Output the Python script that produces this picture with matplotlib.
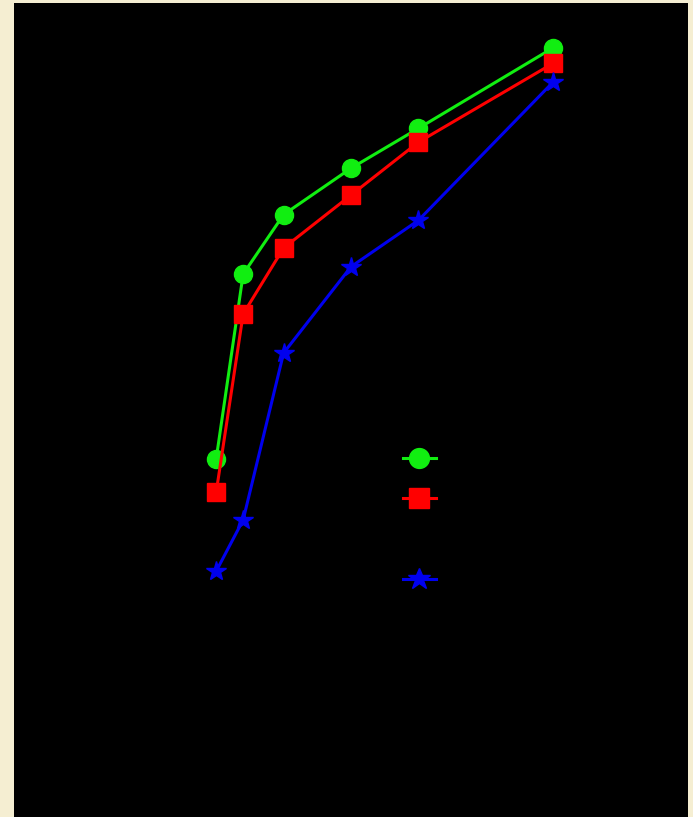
import numpy as np
import matplotlib
matplotlib.use("Agg")
import matplotlib.pyplot as plt

# x positions shared by all series
x = [0, 2, 5, 10, 15, 25]

green = [44.0, 66.7, 74.0, 79.7, 84.6, 94.5]
red = [39.9, 61.8, 69.9, 76.4, 82.9, 92.6]
blue = [30.2, 36.5, 57.0, 67.6, 73.3, 90.3]
labels = ["Series A", "Series B", "Series C", "Series D"]

fig = plt.figure(figsize=(6.93, 8.17), dpi=100, facecolor="#f5eed2")
ax = fig.add_axes([14/693, 0, 674/693, 814/817])
ax.set_facecolor("black")

ax.plot(x, green, color="#11ee11", lw=2.2, marker="o", ms=13, label=labels[0])
ax.plot(x, red, color="#ff0000", lw=2.2, marker="s", ms=13, label=labels[1])
ax.plot([], [], color="black", lw=2.2, label=labels[2])
ax.plot(x, blue, color="#0000ee", lw=2.2, marker="*", ms=15, label=labels[3])

ax.set_xlim(-15, 35)
ax.set_ylim(0, 100)
for s in ax.spines.values():
    s.set_visible(False)
ax.set_xticks([])
ax.set_yticks([])

leg = fig.legend(loc="upper left", bbox_to_anchor=(403/693, 1 - 450/817),
                 frameon=False, fontsize=12, borderpad=0, borderaxespad=0,
                 labelspacing=1.33, handlelength=1.95, markerscale=1.1)
for t in leg.get_texts():
    t.set_color("black")

fig.savefig("out.png", dpi=100, facecolor=fig.get_facecolor())
